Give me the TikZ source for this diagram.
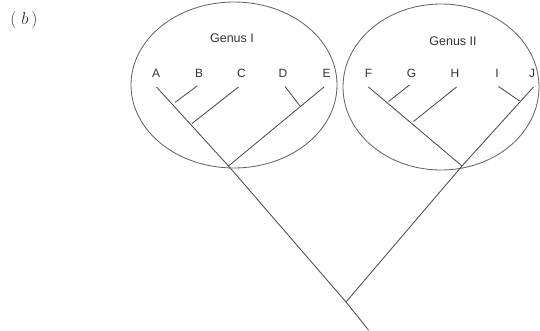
\documentclass[tikz,border=0pt]{standalone}
\usepackage{fontspec}
\newfontfamily\labelfont{Liberation Sans}
\begin{document}
\begin{tikzpicture}[x=1pt,y=-1pt,
  branch/.style={draw=black!70, line width=0.85pt},
  genus/.style={draw=black!60, line width=0.85pt},
  taxon/.style={font=\labelfont\fontsize{12}{14}\selectfont, text=black!80, inner sep=0pt},
  grouplabel/.style={font=\labelfont\fontsize{12.5}{14}\selectfont, text=black!80, inner sep=0pt}]
\useasboundingbox (0,0) rectangle (540,331);

% panel label
\node[inner sep=0pt, font=\fontsize{16}{18}\selectfont, text=black!80] (panel) at (24,20) {$(\;b\,)$};

% the two genera
\draw[genus] (234,85) ellipse [x radius=103, y radius=83];
\draw[genus] (441,87) ellipse [x radius=98, y radius=83];
\node[grouplabel] (g1) at (232,38) {Genus I};
\node[grouplabel] (g2) at (453,41) {Genus II};

% species names
\node[taxon] (A) at (156,73) {A};
\node[taxon] (B) at (199,73) {B};
\node[taxon] (C) at (241.5,73) {C};
\node[taxon] (D) at (283,73) {D};
\node[taxon] (E) at (326.5,73) {E};
\node[taxon] (F) at (368.5,73) {F};
\node[taxon] (G) at (411.5,73) {G};
\node[taxon] (H) at (455,73) {H};
\node[taxon] (I) at (497,73) {I};
\node[taxon] (J) at (532,73) {J};

% branch tips
\coordinate (tA) at (156.5,87);
\coordinate (tB) at (197,86);
\coordinate (tC) at (238.5,87);
\coordinate (tD) at (285,86.5);
\coordinate (tE) at (324,87);
\coordinate (tF) at (368.5,87);
\coordinate (tG) at (409.5,85);
\coordinate (tH) at (456.5,87);
\coordinate (tI) at (498.5,86.5);
\coordinate (tJ) at (533.5,87);

% branching points
\coordinate (nAB) at (175,102.5);
\coordinate (nABC) at (192,123.5);
\coordinate (nDE) at (300,106);
\coordinate (n1) at (228.5,166);
\coordinate (nFG) at (388.5,101.5);
\coordinate (nFGH) at (413.5,121.5);
\coordinate (nIJ) at (519.5,101);
\coordinate (n2) at (462,166);
\coordinate (n0) at (346,302);
\coordinate (root) at (368.5,330);

% tree
\draw[branch] (tA) -- (n1) -- (n0) -- (root);
\draw[branch] (tB) -- (nAB);
\draw[branch] (tC) -- (nABC);
\draw[branch] (tE) -- (n1);
\draw[branch] (tD) -- (nDE);
\draw[branch] (tF) -- (n2);
\draw[branch] (tG) -- (nFG);
\draw[branch] (tH) -- (nFGH);
\draw[branch] (tJ) -- (n2) -- (n0);
\draw[branch] (tI) -- (nIJ);
\end{tikzpicture}
\end{document}
